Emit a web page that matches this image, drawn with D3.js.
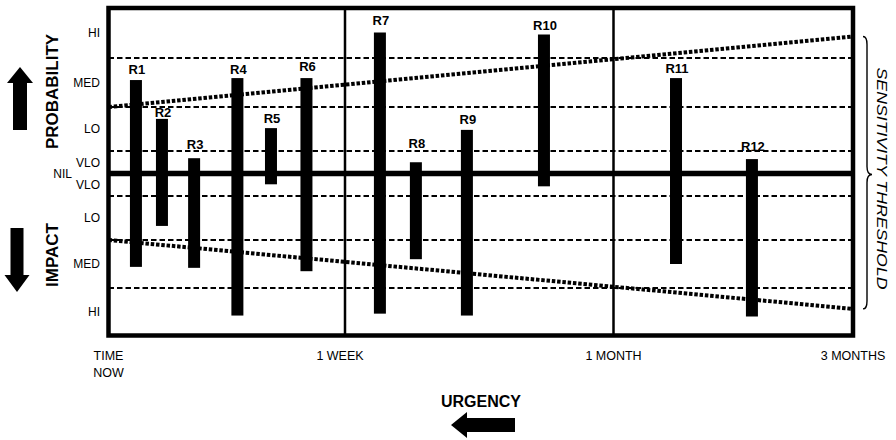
<!DOCTYPE html>
<html>
<head>
<meta charset="utf-8">
<script src="https://cdn.jsdelivr.net/npm/d3@7"></script>
<style>
  html, body { margin: 0; padding: 0; background: #fff; }
  svg { display: block; font-family: Arial, "Liberation Sans", sans-serif; }
</style>
</head>
<body>
<svg id="chart" width="896" height="440"></svg>
<script>
// ---- data ----
const risks = ["R1","R2","R3","R4","R5","R6","R7","R8","R9","R10","R11","R12"];
// position along urgency axis (0 = time now, 1 = 1 week, 2 = 1 month, 3 = 3 months)
const urgency = [0.116, 0.226, 0.362, 0.545, 0.687, 0.837, 1.130, 1.264, 1.454, 1.741, 2.261, 2.578];
// probability (upwards) and impact (downwards) in level units (1 = VLO/LO, 2 = LO/MED, 3 = MED/HI)
const probability = [2.55, 1.73, 0.68, 2.59, 1.52, 2.59, 3.51, 0.50, 1.48, 3.47, 2.59, 0.64];
const impact      = [2.56, 1.68, 2.58, 3.58, 0.48, 2.65, 3.54, 2.40, 3.58, 0.57, 2.50, 3.60];

const levelNames = ["VLO", "LO", "MED", "HI"];
const levelMids = [0.5, 1.5, 2.5, 3.5];
const levelBounds = [1, 2, 3];

const urgencyTicks = [0, 1, 2, 3];
const urgencyLabels = [["TIME", "NOW"], ["1 WEEK"], ["1 MONTH"], ["3 MONTHS"]];

// sensitivity threshold lines: [urgency, level] at start and end
const thresholdUrgency = [0, 3];
const thresholdProbability = [2.0, 3.43];
const thresholdImpact = [2.0, 3.44];

// ---- style constants ----
const labelGap = [6, 2, 9, 4, 5, 7, 8, 14, 6, 5, 5, 8]; // px between label baseline and bar top

// ---- scales ----
const svg = d3.select("#chart");
const x = d3.scaleLinear().domain([0, 1, 2, 3]).range([108.5, 345, 613.5, 853]);
const y = d3.scaleLinear()
  .domain([-4, -3, -2, -1, 0, 1, 2, 3, 4])
  .range([335.5, 288, 240, 196, 173.5, 151, 107, 58, 8]);

const x0 = x(0), x1 = x(3), yTop = y(4), yBot = y(-4);

// dashed level lines
const bounds = levelBounds.flatMap(b => [b, -b]);
svg.append("g").selectAll("line").data(bounds).join("line")
  .attr("x1", x0).attr("x2", x1)
  .attr("y1", d => y(d)).attr("y2", d => y(d))
  .attr("stroke", "#000").attr("stroke-width", 2)
  .attr("stroke-dasharray", "5.5,3");

// vertical time dividers
svg.append("g").selectAll("line").data(urgencyTicks.slice(1, 3)).join("line")
  .attr("x1", d => x(d)).attr("x2", d => x(d))
  .attr("y1", yTop).attr("y2", yBot)
  .attr("stroke", "#000").attr("stroke-width", 2.5);

// threshold dotted lines
const line = d3.line().x(d => x(d[0])).y(d => y(d[1]));
const thrUp = thresholdUrgency.map((u, i) => [u, thresholdProbability[i]]);
const thrDown = thresholdUrgency.map((u, i) => [u, -thresholdImpact[i]]);
[thrUp, thrDown].forEach(pts => {
  svg.append("path").attr("d", line(pts))
    .attr("fill", "none").attr("stroke", "#000")
    .attr("stroke-width", 4).attr("stroke-dasharray", "3.5,1.8");
});

// NIL line
svg.append("line")
  .attr("x1", x0).attr("x2", x1).attr("y1", y(0)).attr("y2", y(0))
  .attr("stroke", "#000").attr("stroke-width", 5.5);

// bars
const barW = 12;
svg.append("g").selectAll("rect").data(risks).join("rect")
  .attr("x", (d, i) => x(urgency[i]) - barW / 2)
  .attr("y", (d, i) => y(probability[i]))
  .attr("width", barW)
  .attr("height", (d, i) => y(-impact[i]) - y(probability[i]))
  .attr("fill", "#000");

// bar labels
svg.append("g").selectAll("text").data(risks).join("text")
  .attr("x", (d, i) => x(urgency[i]) + 1)
  .attr("y", (d, i) => y(probability[i]) - labelGap[i])
  .attr("text-anchor", "middle")
  .attr("font-size", 13).attr("font-weight", "bold")
  .text(d => d);

// frame
svg.append("rect")
  .attr("x", x0).attr("y", yTop).attr("width", x1 - x0).attr("height", yBot - yTop)
  .attr("fill", "none").attr("stroke", "#000").attr("stroke-width", 4.5);

// level labels
const lvl = svg.append("g").attr("font-size", 12).attr("text-anchor", "end");
levelMids.forEach((m, i) => {
  [m, -m].forEach(v => {
    lvl.append("text").attr("x", 100).attr("y", y(v))
      .attr("dy", "0.36em").text(levelNames[i]);
  });
});
lvl.append("text").attr("x", 72).attr("y", y(0)).attr("dy", "0.36em").text("NIL");

// urgency tick labels
const tl = svg.append("g").attr("font-size", 12.5).attr("text-anchor", "middle");
urgencyTicks.forEach((t, i) => {
  const cx = x(t) - (i === 1 ? 5 : 0);
  const tx = tl.append("text").attr("x", cx).attr("y", 360);
  urgencyLabels[i].forEach((s, k) => {
    tx.append("tspan").attr("x", cx).attr("dy", k === 0 ? 0 : 17).text(s);
  });
});

// axis titles
svg.append("text").attr("transform", "translate(57.5,91.5) rotate(-90)")
  .attr("text-anchor", "middle").attr("font-size", 17).attr("font-weight", "bold")
  .text("PROBABILITY");
svg.append("text").attr("transform", "translate(57.5,255) rotate(-90)")
  .attr("text-anchor", "middle").attr("font-size", 17).attr("font-weight", "bold")
  .text("IMPACT");
svg.append("text").attr("x", 481).attr("y", 407)
  .attr("text-anchor", "middle").attr("font-size", 16).attr("font-weight", "bold")
  .text("URGENCY");

// arrows
svg.append("path").attr("fill", "#000")
  .attr("d", "M20,67 L33,83 L27,83 L27,130 L13,130 L13,83 L7,83 Z");
svg.append("path").attr("fill", "#000")
  .attr("d", "M17,292 L4.5,275 L10.5,275 L10.5,228 L23.5,228 L23.5,275 L29.5,275 Z");
svg.append("path").attr("fill", "#000")
  .attr("d", "M451,425 L467,412 L467,418 L515,418 L515,432 L467,432 L467,438 Z");

// sensitivity threshold brace
const bt = y(thresholdProbability[1]), bb = y(-thresholdImpact[1]), bm = y(0) + 1;
const bx = 863;
svg.append("path").attr("fill", "none").attr("stroke", "#000").attr("stroke-width", 1.4)
  .attr("d", `M${bx},${bt} Q${bx + 4},${bt} ${bx + 4},${bt + 8} L${bx + 4},${bm - 8} Q${bx + 4},${bm} ${bx + 9},${bm} Q${bx + 4},${bm} ${bx + 4},${bm + 8} L${bx + 4},${bb - 8} Q${bx + 4},${bb} ${bx},${bb}`);
svg.append("text").attr("transform", `translate(877,178.5) rotate(90)`)
  .attr("text-anchor", "middle").attr("font-size", 15).attr("font-style", "italic")
  .attr("textLength", 222).attr("lengthAdjust", "spacingAndGlyphs")
  .text("SENSITIVITY THRESHOLD");
</script>
</body>
</html>
